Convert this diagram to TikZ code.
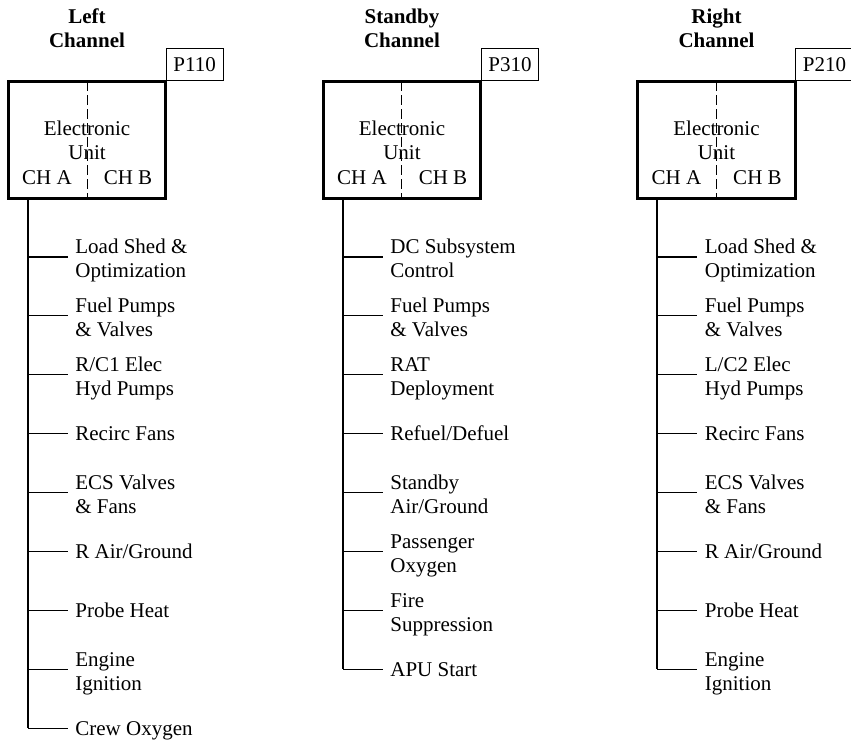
\documentclass[tikz,border=0pt]{standalone}
\usepackage{fontspec}
\setmainfont{Liberation Serif}
\usepackage{tikz}
\usetikzlibrary{positioning}
\newcommand{\diagsize}{\fontsize{10.5}{12}\selectfont}
\tikzset{
  unit/.style={rectangle, draw=black, line width=1.5pt, outer sep=0pt, minimum width=2.76cm, minimum height=2.06cm, align=center, font=\diagsize},
  tag/.style={rectangle, draw=black, line width=0.5pt, inner xsep=3.7pt, minimum height=16pt, anchor=south west, font=\diagsize},
  ttl/.style={align=center, font=\diagsize\bfseries},
  chan/.style={inner sep=1pt, font=\diagsize},
  item/.style={anchor=west, align=left, inner xsep=3.5pt, inner ysep=1pt, text height=7pt, text depth=0pt, font=\diagsize},
  item2/.style={item, text height=21pt},
  trunk/.style={line width=1pt},
  branch/.style={line width=0.6pt},
  divider/.style={line width=0.5pt, dash pattern=on 5pt off 2pt}
}

\begin{document}
\begin{tikzpicture}
  \useasboundingbox (0,0) rectangle (14.955,-13.022);

  % left channel
  \node[ttl] (lttl) at (1.529,-0.492) {Left\\Channel};
  \node[unit] (leu) at (1.529,-2.460) {Electronic\\Unit};
  \node[tag] (ltag) at (leu.north east) {P110};
  \node[chan] (lcha) at (0.826,-3.128) {CH A};
  \node[chan] (lchb) at (2.249,-3.128) {CH B};
  \draw[divider] (leu.north) -- (leu.south);

  \coordinate (lb1) at (0.492,-4.516);
  \coordinate (lb2) at (0.492,-5.551);
  \coordinate (lb3) at (0.492,-6.586);
  \coordinate (lb4) at (0.492,-7.621);
  \coordinate (lb5) at (0.492,-8.656);
  \coordinate (lb6) at (0.492,-9.691);
  \coordinate (lb7) at (0.492,-10.727);
  \coordinate (lb8) at (0.492,-11.762);
  \coordinate (lb9) at (0.492,-12.797);
  \node[item2] (l1) at (1.195,-4.516) {Load Shed \&\\Optimization};
  \node[item2] (l2) at (1.195,-5.551) {Fuel Pumps\\\& Valves};
  \node[item2] (l3) at (1.195,-6.586) {R/C1 Elec\\Hyd Pumps};
  \node[item] (l4) at (1.195,-7.621) {Recirc Fans};
  \node[item2] (l5) at (1.195,-8.656) {ECS Valves\\\& Fans};
  \node[item] (l6) at (1.195,-9.691) {R Air/Ground};
  \node[item] (l7) at (1.195,-10.727) {Probe Heat};
  \node[item2] (l8) at (1.195,-11.762) {Engine\\Ignition};
  \node[item] (l9) at (1.195,-12.797) {Crew Oxygen};
  \draw[trunk] (leu.south -| lb1) -- (lb9);
  \draw[branch] (lb1) -- (l1);
  \draw[branch] (lb2) -- (l2);
  \draw[branch] (lb3) -- (l3);
  \draw[branch] (lb4) -- (l4);
  \draw[branch] (lb5) -- (l5);
  \draw[branch] (lb6) -- (l6);
  \draw[branch] (lb7) -- (l7);
  \draw[branch] (lb8) -- (l8);
  \draw[branch] (lb9) -- (l9);

  % standby channel
  \node[ttl] (sttl) at (7.064,-0.492) {Standby\\Channel};
  \node[unit] (seu) at (7.064,-2.460) {Electronic\\Unit};
  \node[tag] (stag) at (seu.north east) {P310};
  \node[chan] (scha) at (6.361,-3.128) {CH A};
  \node[chan] (schb) at (7.785,-3.128) {CH B};
  \draw[divider] (seu.north) -- (seu.south);

  \coordinate (sb1) at (6.028,-4.516);
  \coordinate (sb2) at (6.028,-5.551);
  \coordinate (sb3) at (6.028,-6.586);
  \coordinate (sb4) at (6.028,-7.621);
  \coordinate (sb5) at (6.028,-8.656);
  \coordinate (sb6) at (6.028,-9.691);
  \coordinate (sb7) at (6.028,-10.727);
  \coordinate (sb8) at (6.028,-11.762);
  \node[item2] (s1) at (6.730,-4.516) {DC Subsystem\\Control};
  \node[item2] (s2) at (6.730,-5.551) {Fuel Pumps\\\& Valves};
  \node[item2] (s3) at (6.730,-6.586) {RAT\\Deployment};
  \node[item] (s4) at (6.730,-7.621) {Refuel/Defuel};
  \node[item2] (s5) at (6.730,-8.656) {Standby\\Air/Ground};
  \node[item2] (s6) at (6.730,-9.691) {Passenger\\Oxygen};
  \node[item2] (s7) at (6.730,-10.727) {Fire\\Suppression};
  \node[item] (s8) at (6.730,-11.762) {APU Start};
  \draw[trunk] (seu.south -| sb1) -- (sb8);
  \draw[branch] (sb1) -- (s1);
  \draw[branch] (sb2) -- (s2);
  \draw[branch] (sb3) -- (s3);
  \draw[branch] (sb4) -- (s4);
  \draw[branch] (sb5) -- (s5);
  \draw[branch] (sb6) -- (s6);
  \draw[branch] (sb7) -- (s7);
  \draw[branch] (sb8) -- (s8);

  % right channel
  \node[ttl] (rttl) at (12.591,-0.492) {Right\\Channel};
  \node[unit] (reu) at (12.591,-2.460) {Electronic\\Unit};
  \node[tag] (rtag) at (reu.north east) {P210};
  \node[chan] (rcha) at (11.888,-3.128) {CH A};
  \node[chan] (rchb) at (13.311,-3.128) {CH B};
  \draw[divider] (reu.north) -- (reu.south);

  \coordinate (rb1) at (11.554,-4.516);
  \coordinate (rb2) at (11.554,-5.551);
  \coordinate (rb3) at (11.554,-6.586);
  \coordinate (rb4) at (11.554,-7.621);
  \coordinate (rb5) at (11.554,-8.656);
  \coordinate (rb6) at (11.554,-9.691);
  \coordinate (rb7) at (11.554,-10.727);
  \coordinate (rb8) at (11.554,-11.762);
  \node[item2] (r1) at (12.257,-4.516) {Load Shed \&\\Optimization};
  \node[item2] (r2) at (12.257,-5.551) {Fuel Pumps\\\& Valves};
  \node[item2] (r3) at (12.257,-6.586) {L/C2 Elec\\Hyd Pumps};
  \node[item] (r4) at (12.257,-7.621) {Recirc Fans};
  \node[item2] (r5) at (12.257,-8.656) {ECS Valves\\\& Fans};
  \node[item] (r6) at (12.257,-9.691) {R Air/Ground};
  \node[item] (r7) at (12.257,-10.727) {Probe Heat};
  \node[item2] (r8) at (12.257,-11.762) {Engine\\Ignition};
  \draw[trunk] (reu.south -| rb1) -- (rb8);
  \draw[branch] (rb1) -- (r1);
  \draw[branch] (rb2) -- (r2);
  \draw[branch] (rb3) -- (r3);
  \draw[branch] (rb4) -- (r4);
  \draw[branch] (rb5) -- (r5);
  \draw[branch] (rb6) -- (r6);
  \draw[branch] (rb7) -- (r7);
  \draw[branch] (rb8) -- (r8);
\end{tikzpicture}
\end{document}
